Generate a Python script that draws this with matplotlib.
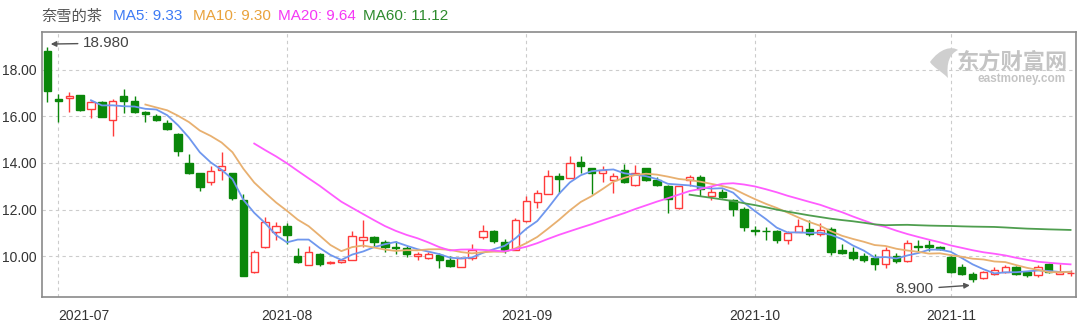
import numpy as np
import pandas as pd
import matplotlib
matplotlib.use("Agg")
import matplotlib.pyplot as plt
from matplotlib.patches import PathPatch
from matplotlib.path import Path

# 奈雪的茶 日K (2021-06-30 ~ 2021-11-16)
holidays = ["2021-07-01", "2021-09-22", "2021-10-01", "2021-10-13", "2021-10-14"]
dates = [d for d in pd.bdate_range("2021-06-30", "2021-11-16") if d.strftime("%Y-%m-%d") not in holidays]

opens = [18.80, 16.74, 16.81, 16.91, 16.31, 16.60, 15.83, 16.86, 16.68, 16.21,
         16.04, 15.71, 15.25, 14.02, 13.56, 13.18, 13.71, 13.56, 12.39, 9.30,
         10.39, 11.02, 11.30, 9.99, 9.63, 10.10, 9.70, 9.73, 9.85, 10.70,
         10.82, 10.62, 10.38, 10.35, 9.99, 9.92, 10.04, 9.82, 9.54, 9.92,
         10.82, 11.07, 10.60, 10.28, 11.50, 12.31, 12.68, 13.46, 13.36, 14.03,
         13.77, 13.57, 13.26, 13.69, 13.07, 13.77, 13.28, 13.03, 12.07, 13.28,
         13.40, 12.60, 12.77, 12.43, 12.04, 11.11, 11.09, 11.08, 10.68, 11.04,
         11.18, 10.94, 11.18, 10.25, 10.18, 10.01, 9.93, 9.65, 10.00, 9.80,
         10.43, 10.47, 10.37, 9.97, 9.51, 9.25, 9.04, 9.25, 9.32, 9.51,
         9.32, 9.18, 9.65, 9.25, 9.27]
highs = [18.98, 16.95, 17.03, 16.93, 16.68, 16.68, 16.74, 17.17, 16.86, 16.25,
         16.11, 15.83, 15.31, 14.39, 13.59, 13.88, 14.48, 13.59, 12.68, 10.27,
         11.68, 11.45, 11.42, 10.35, 10.42, 10.13, 9.79, 9.88, 11.06, 11.53,
         10.88, 10.67, 10.64, 10.45, 10.17, 10.17, 10.11, 10.00, 9.96, 10.50,
         11.35, 11.11, 10.74, 11.64, 12.60, 12.86, 13.69, 13.55, 14.31, 14.31,
         13.80, 13.86, 13.55, 13.97, 13.91, 13.80, 13.40, 13.07, 13.03, 13.50,
         13.50, 13.00, 12.88, 12.47, 12.11, 11.28, 11.25, 11.14, 11.08, 11.61,
         11.54, 11.40, 11.25, 10.51, 10.37, 10.14, 10.09, 10.37, 10.11, 10.71,
         10.68, 10.68, 10.43, 10.00, 9.65, 9.32, 9.36, 9.54, 9.61, 9.57,
         9.36, 9.61, 9.68, 9.65, 9.42]
lows = [16.64, 15.78, 16.21, 16.25, 15.93, 15.97, 15.17, 16.17, 16.17, 15.78,
        15.81, 15.42, 14.31, 13.53, 12.79, 13.06, 13.28, 12.39, 9.13, 9.27,
        10.35, 10.68, 10.50, 9.70, 9.60, 9.59, 9.66, 9.68, 9.82, 10.39,
        10.44, 10.16, 10.07, 9.97, 9.82, 9.89, 9.49, 9.53, 9.51, 9.82,
        10.74, 10.54, 10.14, 10.28, 11.45, 12.07, 12.68, 12.71, 13.36, 13.57,
        12.68, 13.17, 12.71, 13.16, 13.03, 13.22, 13.03, 11.85, 12.03, 13.00,
        12.57, 12.40, 12.50, 11.71, 11.07, 10.90, 10.68, 10.57, 10.51, 11.04,
        10.86, 10.86, 10.04, 10.08, 9.85, 9.75, 9.40, 9.47, 9.71, 9.76,
        10.18, 10.22, 10.25, 9.29, 9.18, 8.90, 9.01, 9.18, 9.29, 9.18,
        9.08, 9.08, 9.29, 9.22, 9.15]
closes = [17.08, 16.66, 16.86, 16.28, 16.60, 15.97, 16.68, 16.67, 16.21, 16.11,
          15.83, 15.45, 14.50, 13.56, 12.96, 13.66, 13.85, 12.49, 9.13, 10.16,
          11.45, 11.28, 10.92, 9.73, 10.16, 9.67, 9.76, 9.85, 10.88, 10.82,
          10.60, 10.39, 10.34, 10.07, 10.07, 10.09, 9.85, 9.56, 9.92, 10.28,
          11.07, 10.64, 10.28, 11.54, 12.35, 12.71, 13.46, 13.31, 14.00, 13.89,
          13.57, 13.69, 13.46, 13.18, 13.57, 13.26, 13.07, 12.45, 13.00, 13.40,
          12.88, 12.76, 12.54, 12.04, 11.26, 11.06, 11.07, 10.68, 11.00, 11.28,
          10.94, 11.14, 10.18, 10.11, 9.90, 9.85, 9.65, 10.28, 9.80, 10.54,
          10.37, 10.37, 10.31, 9.32, 9.22, 9.00, 9.32, 9.42, 9.54, 9.25,
          9.18, 9.51, 9.32, 9.32, 9.29]

ma_windows = [5, 10, 20, 60]
ma_labels = ["MA5: 9.33", "MA10: 9.30", "MA20: 9.64", "MA60: 11.12"]
ma_colors = ["#6f97ee", "#e8b070", "#ff5cff", "#4f9e4f"]
ma_text_colors = ["#3d7bf5", "#e9a23b", "#f538f5", "#2e8b2e"]
y_ticks = [10, 12, 14, 16, 18]

RED = "#ff3b3b"
GREEN = "#0a870a"

plt.rcParams['font.family'] = ['Liberation Sans', 'Noto Sans CJK SC', 'DejaVu Sans']

df = pd.DataFrame({"open": opens, "high": highs, "low": lows, "close": closes}, index=dates)
x = np.arange(len(df))
up = df["close"] >= df["open"]

fig = plt.figure(figsize=(10.8, 3.23), dpi=100)
ax = fig.add_axes([42 / 1080, 26 / 323, 1034 / 1080, 265 / 323])

# 影线
wick_colors = [RED if u else GREEN for u in up]
ax.vlines(x, df["low"], df["high"], colors=wick_colors, linewidth=1, zorder=2)

# 实体
body_bottom = np.minimum(df["open"], df["close"])
body_h = np.maximum((df["close"] - df["open"]).abs(), 0.02)
ax.bar(x[up], body_h[up], bottom=body_bottom[up], width=0.68,
       facecolor="white", edgecolor=RED, linewidth=1, zorder=3)
ax.bar(x[~up], body_h[~up], bottom=body_bottom[~up], width=0.68,
       facecolor=GREEN, edgecolor=GREEN, linewidth=1, zorder=3)

# 均线
for w, c in zip(ma_windows, ma_colors):
    ax.plot(x, df["close"].rolling(w).mean(), color=c, linewidth=1.3, zorder=4)

ax.set_xlim(-0.5, len(df) - 0.5)
ax.set_ylim(8.24, 19.63)
ax.set_yticks(y_ticks)
ax.set_yticklabels([f"{v:.2f}" for v in y_ticks])

# 每月第一个交易日
month_first = [i for i in range(1, len(df)) if dates[i].month != dates[i - 1].month]
ax.set_xticks(month_first)
xt = ax.set_xticklabels([dates[i].strftime("%Y-%m") for i in month_first])
xt[0].set_ha("left")

ax.tick_params(axis="both", length=0, labelsize=10, labelcolor="#333333")
ax.tick_params(axis="x", pad=9)
ax.tick_params(axis="y", pad=4)
ax.grid(True, linestyle=(0, (3, 3)), color="#cccccc", linewidth=0.8)
ax.set_axisbelow(True)
for s in ax.spines.values():
    s.set_color("#8a8a8a")
    s.set_linewidth(1.2)

# 最高/最低标注
hi = int(np.argmax(highs))
lo = int(np.argmin(lows))
ax.annotate(f"{highs[hi]:.3f}", xy=(hi + 0.05, highs[hi] + 0.13), xytext=(hi + 3.3, highs[hi] + 0.17),
            fontsize=11, color="#444444", va="center", ha="left",
            arrowprops=dict(arrowstyle="-|>", color="#555555", lw=1, mutation_scale=8))
ax.annotate(f"{lows[lo]:.3f}", xy=(lo, lows[lo] - 0.15), xytext=(lo - 3.6, lows[lo] - 0.32),
            fontsize=11, color="#444444", va="center", ha="right",
            arrowprops=dict(arrowstyle="-|>", color="#555555", lw=1, mutation_scale=8))

# 水印
fig.text(1068 / 1080, 1 - 62 / 323, "东方财富网", fontsize=16, color="#c4c4c4",
         ha="right", va="center", family=["Noto Sans CJK SC"], fontweight="bold")
fig.text(1066 / 1080, 1 - 79 / 323, "eastmoney.com", fontsize=8.5, color="#c4c4c4",
         ha="right", va="center", fontweight="bold")
# 水印小图标 (像素坐标)
logo = Path([(930, 62), (940, 48), (952, 46), (958, 50),
             (950, 54), (946, 62), (948, 78),
             (940, 70), (934, 68), (930, 62)],
            [Path.MOVETO, Path.CURVE4, Path.CURVE4, Path.CURVE4,
             Path.CURVE4, Path.CURVE4, Path.CURVE4,
             Path.CURVE4, Path.CURVE4, Path.CURVE4])
logo_fig = Path([(px / 1080, 1 - py / 323) for px, py in logo.vertices], logo.codes)
fig.patches.append(PathPatch(logo_fig, transform=fig.transFigure, facecolor="#cfcfcf",
                             edgecolor="none", zorder=1))

# 顶部图例
fig.text(42 / 1080, 1 - 16 / 323, "奈雪的茶", fontsize=11, color="#555555",
         va="center", family=["Noto Sans CJK SC", "DejaVu Sans"])
for xp, lab, c in zip([113, 193, 278, 363], ma_labels, ma_text_colors):
    fig.text(xp / 1080, 1 - 16 / 323, lab, fontsize=11, color=c, va="center")

fig.savefig("out.png", dpi=100)
